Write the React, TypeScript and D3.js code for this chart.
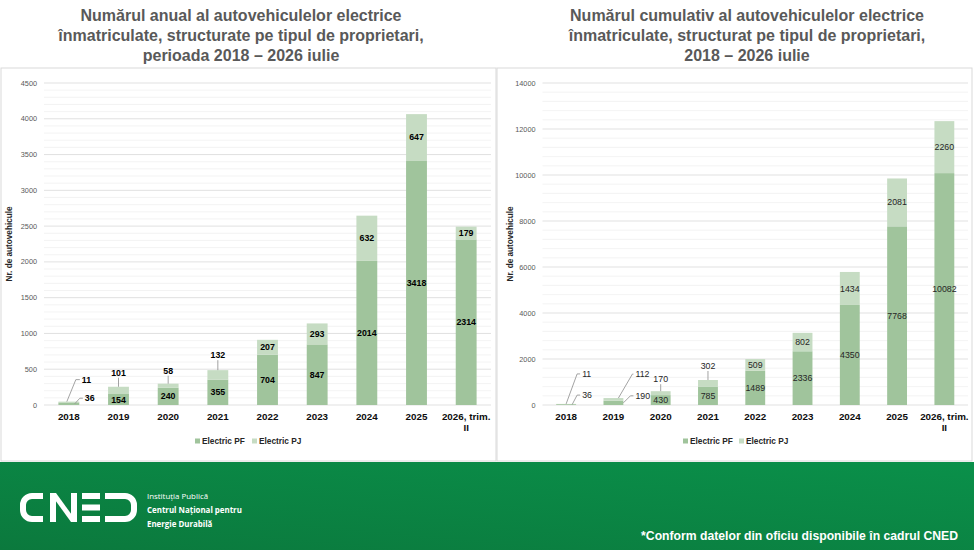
import * as d3 from 'd3';

// categories + values
const years = ['2018', '2019', '2020', '2021', '2022', '2023', '2024', '2025', '2026, trim. II'];
const annualPF = [36, 154, 240, 355, 704, 847, 2014, 3418, 2314];
const annualPJ = [11, 101, 58, 132, 207, 293, 632, 647, 179];
const cumulPF = [36, 190, 430, 785, 1489, 2336, 4350, 7768, 10082];
const cumulPJ = [11, 112, 170, 302, 509, 802, 1434, 2081, 2260];
const annualTicks = [0, 500, 1000, 1500, 2000, 2500, 3000, 3500, 4000, 4500];
const cumulTicks = [0, 2000, 4000, 6000, 8000, 10000, 12000, 14000];
const seriesNames = ['Electric PF', 'Electric PJ'];

const annualTitle = [
    'Numărul anual al autovehiculelor electrice',
    'înmatriculate, structurate pe tipul de proprietari,',
    'perioada 2018 – 2026 iulie',
];
const cumulTitle = [
    'Numărul cumulativ al autovehiculelor electrice',
    'înmatriculate, structurat pe tipul de proprietari,',
    '2018 – 2026 iulie',
];

const FONT = '"Liberation Sans", Arial, Helvetica, sans-serif';
const PF_COLOR = '#a0c49c';
const PJ_COLOR = '#c6dcc3';
const LEADER = '#8c8c8c';

type Callout =
    | { kind: 'above'; gap: number }
    | { kind: 'side'; anchor: 'top' | 'mid'; sx: number; ex: number; dy: number; lx: number };

interface ChartProps {
    panel: [number, number, number, number];
    title: string[];
    titleX: number;
    pf: number[];
    pj: number[];
    ticks: number[];
    minorStep: number;
    xRange: [number, number];
    yTitleX: number;
    labelWeight: number;
    labelColor: string;
    legendX: [number, number];
    callouts: Record<string, Callout>;
}

function StackedChart(p: ChartProps) {
    const yMax = p.ticks[p.ticks.length - 1];
    const y = d3.scaleLinear().domain([0, yMax]).range([405, 83]);
    const x = d3.scaleBand<string>().domain(years).range(p.xRange).paddingInner(0.58).paddingOuter(0.29);
    const bw = x.bandwidth();
    const minor = d3.range(0, yMax, p.minorStep).filter(v => !p.ticks.includes(v));

    const labels: JSX.Element[] = [];
    years.forEach((yr, i) => {
        const cx = (x(yr) || 0) + bw / 2;
        const segs = [
            { key: 'pf', v: p.pf[i], lo: 0, hi: p.pf[i] },
            { key: 'pj', v: p.pj[i], lo: p.pf[i], hi: p.pf[i] + p.pj[i] },
        ];
        segs.forEach(s => {
            const yTop = y(s.hi);
            const yMid = y((s.lo + s.hi) / 2);
            const c = p.callouts[`${i}-${s.key}`];
            const textProps = {
                fontFamily: FONT, fontSize: 8.8, fontWeight: p.labelWeight, fill: p.labelColor,
            };
            if (!c) {
                labels.push(
                    <text key={`${i}${s.key}`} x={cx} y={yMid} dy="0.35em" textAnchor="middle" {...textProps}>{s.v}</text>
                );
            } else if (c.kind === 'above') {
                labels.push(
                    <g key={`${i}${s.key}`}>
                        <line x1={cx} x2={cx} y1={yTop} y2={yTop - c.gap + 5} stroke={LEADER} strokeWidth={0.8} />
                        <text x={cx} y={yTop - c.gap} dy="0.35em" textAnchor="middle" {...textProps}>{s.v}</text>
                    </g>
                );
            } else {
                const ay = c.anchor === 'top' ? yTop : yMid;
                const ly = ay + c.dy;
                labels.push(
                    <g key={`${i}${s.key}`}>
                        <polyline
                            points={`${cx + c.sx},${ay} ${cx + c.ex},${ly} ${cx + c.lx - 2},${ly}`}
                            fill="none" stroke={LEADER} strokeWidth={0.8} />
                        <text x={cx + c.lx} y={ly} dy="0.35em" {...textProps}>{s.v}</text>
                    </g>
                );
            }
        });
    });

    const [px, py, pw, ph] = p.panel;
    return (
        <g>
            {p.title.map((t, i) => (
                <text key={t} x={p.titleX} y={21 + i * 19.8} textAnchor="middle" fontFamily={FONT}
                    fontSize={16} fontWeight={700} fill="#595959">{t}</text>
            ))}
            <rect x={px} y={py} width={pw} height={ph} fill="#fff" stroke="#d9d9d9" strokeWidth={1} />

            {/* gridlines */}
            {minor.map(v => (
                <line key={`m${v}`} x1={p.xRange[0]} x2={p.xRange[1]} y1={y(v)} y2={y(v)} stroke="#f0f0f0" strokeWidth={0.8} />
            ))}
            {p.ticks.map(v => (
                <g key={`t${v}`}>
                    <line x1={p.xRange[0]} x2={p.xRange[1]} y1={y(v)} y2={y(v)} stroke="#d9d9d9" strokeWidth={0.8} />
                    <text x={p.xRange[0] - 7} y={y(v)} dy="0.35em" textAnchor="end" fontFamily={FONT}
                        fontSize={7.3} fill="#595959">{v}</text>
                </g>
            ))}

            <text transform={`translate(${p.yTitleX},${(y(0) + y(yMax)) / 2}) rotate(-90)`} textAnchor="middle"
                dy="0.35em" fontFamily={FONT} fontSize={8.2} fontWeight={700} fill="#262626">Nr. de autovehicule</text>

            {/* bars */}
            {years.map((yr, i) => (
                <g key={yr}>
                    <rect x={x(yr)} y={y(p.pf[i])} width={bw} height={y(0) - y(p.pf[i])} fill={PF_COLOR} />
                    <rect x={x(yr)} y={y(p.pf[i] + p.pj[i])} width={bw}
                        height={y(p.pf[i]) - y(p.pf[i] + p.pj[i])} fill={PJ_COLOR} />
                </g>
            ))}
            {labels}

            {/* category labels */}
            {years.map(yr => {
                const cut = yr.lastIndexOf(' ');
                const lines = yr.length > 6 ? [yr.slice(0, cut), yr.slice(cut + 1)] : [yr];
                return lines.map((ln, j) => (
                    <text key={yr + j} x={(x(yr) || 0) + bw / 2} y={417 + j * 11} dy="0.35em" textAnchor="middle"
                        fontFamily={FONT} fontSize={9.8} fontWeight={700} fill="#0d0d0d">{ln}</text>
                ));
            })}

            {/* legend */}
            {seriesNames.map((n, i) => (
                <g key={n} transform={`translate(${p.legendX[i]},441)`}>
                    <rect x={0} y={-2.5} width={5} height={5} fill={i === 0 ? PF_COLOR : PJ_COLOR} />
                    <text x={7} dy="0.35em" fontFamily={FONT} fontSize={8.3} fontWeight={700} fill="#262626">{n}</text>
                </g>
            ))}
        </g>
    );
}

function Logo() {
    return (
        <g>
            <path d="M43,496 H32 A9,9 0 0 0 23,505 V510 A9,9 0 0 0 32,519 H43" fill="none" stroke="#fff" strokeWidth={6} />
            <rect x={50} y={493} width={6} height={29} fill="#fff" />
            <rect x={71} y={493} width={6} height={29} fill="#fff" />
            <polygon points="50,493 56,493 77,522 71,522" fill="#fff" />
            <rect x={82} y={493} width={18} height={6} fill="#fff" />
            <rect x={82} y={504.5} width={18} height={6} fill="#fff" />
            <rect x={82} y={516} width={18} height={6} fill="#fff" />
            <path d="M105,496 H125 A9,9 0 0 1 134,505 V510 A9,9 0 0 1 125,519 H105" fill="none" stroke="#fff" strokeWidth={6} />
            <text x={147} y={498.5} fontFamily='"Open Sans", sans-serif' fontSize={7.9} fill="#fff">Instituția Publică</text>
            <text x={147} y={513} fontFamily='"Open Sans", sans-serif' fontSize={7.9} fontWeight={700} fill="#fff">Centrul Național pentru</text>
            <text x={147} y={526.5} fontFamily='"Open Sans", sans-serif' fontSize={7.9} fontWeight={700} fill="#fff">Energie Durabilă</text>
        </g>
    );
}

export default function App() {
    return (
        <svg width={974} height={550} style={{ position: 'absolute', left: 0, top: 0, background: '#fff' }}>
            <defs>
                <linearGradient id="foot" x1="0" y1="1" x2="1" y2="0">
                    <stop offset="0%" stopColor="#0b793d" />
                    <stop offset="100%" stopColor="#0a904a" />
                </linearGradient>
            </defs>
            <StackedChart
                panel={[1, 68, 495, 393]} title={annualTitle} titleX={241}
                pf={annualPF} pj={annualPJ} ticks={annualTicks} minorStep={100}
                xRange={[44, 491]} yTitleX={9} labelWeight={700} labelColor="#000"
                legendX={[195, 252]}
                callouts={{
                    '0-pj': { kind: 'side', anchor: 'top', sx: -2, ex: 7, dy: -22, lx: 13 },
                    '0-pf': { kind: 'side', anchor: 'mid', sx: 6, ex: 11, dy: -5.5, lx: 16 },
                    '1-pj': { kind: 'above', gap: 14 },
                    '2-pj': { kind: 'above', gap: 13 },
                    '3-pj': { kind: 'above', gap: 15 },
                }}
            />
            <StackedChart
                panel={[497, 68, 475, 393]} title={cumulTitle} titleX={747}
                pf={cumulPF} pj={cumulPJ} ticks={cumulTicks} minorStep={400}
                xRange={[542.5, 968]} yTitleX={510} labelWeight={400} labelColor="#262626"
                legendX={[683, 739]}
                callouts={{
                    '0-pj': { kind: 'side', anchor: 'top', sx: 0, ex: 11, dy: -30, lx: 16 },
                    '0-pf': { kind: 'side', anchor: 'mid', sx: 6, ex: 11, dy: -9.5, lx: 16 },
                    '1-pj': { kind: 'side', anchor: 'top', sx: 5, ex: 19, dy: -24, lx: 22 },
                    '1-pf': { kind: 'side', anchor: 'mid', sx: 10, ex: 17, dy: -7, lx: 22 },
                    '2-pj': { kind: 'above', gap: 12 },
                    '3-pj': { kind: 'above', gap: 14 },
                }}
            />
            <rect x={0} y={462} width={974} height={88} fill="url(#foot)" />
            <Logo />
            <text x={958} y={540} textAnchor="end" fontFamily={FONT} fontSize={12.2} fontWeight={700} fill="#fff">
                *Conform datelor din oficiu disponibile în cadrul CNED
            </text>
        </svg>
    );
}
